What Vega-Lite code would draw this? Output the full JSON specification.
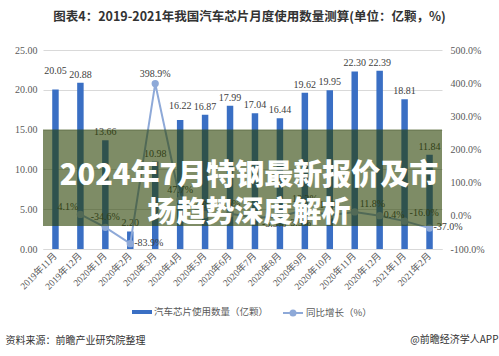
{
  "$schema": "https://vega.github.io/schema/vega-lite/v6.json",
  "width": 399,
  "height": 199,
  "autosize": "none",
  "padding": {"left": 43, "top": 50, "right": 57, "bottom": 107},
  "background": "white",
  "config": {
    "view": {"stroke": null},
    "locale": {"number": {"decimal": ".", "thousands": ",", "grouping": [3], "currency": ["", ""], "minus": "-"}},
    "axis": {"labelFont": "Liberation Serif", "labelFontSize": 10, "labelColor": "#595959", "ticks": false, "domain": false}
  },
  "title": {
    "text": "图表4：2019-2021年我国汽车芯片月度使用数量测算(单位：亿颗，%)",
    "font": "Noto Sans CJK SC",
    "fontSize": 12.5,
    "fontWeight": "bold",
    "color": "#333333",
    "anchor": "middle",
    "frame": "group",
    "dx": 7,
    "offset": 22
  },
  "data": {
    "values": [
      {"month": "2019年11月", "count": 20.05, "growth": null},
      {"month": "2019年12月", "count": 20.88, "growth": 0.041},
      {"month": "2020年1月", "count": 13.66, "growth": -0.346},
      {"month": "2020年2月", "count": 2.20, "growth": -0.839},
      {"month": "2020年3月", "count": 10.98, "growth": 3.989},
      {"month": "2020年4月", "count": 16.22, "growth": 0.477},
      {"month": "2020年5月", "count": 16.87, "growth": 0.040},
      {"month": "2020年6月", "count": 17.99, "growth": 0.066},
      {"month": "2020年7月", "count": 17.04, "growth": -0.053},
      {"month": "2020年8月", "count": 16.44, "growth": -0.035},
      {"month": "2020年9月", "count": 19.62, "growth": 0.193},
      {"month": "2020年10月", "count": 19.95, "growth": 0.017},
      {"month": "2020年11月", "count": 22.30, "growth": 0.118},
      {"month": "2020年12月", "count": 22.39, "growth": 0.004},
      {"month": "2021年1月", "count": 18.81, "growth": -0.160},
      {"month": "2021年2月", "count": 11.84, "growth": -0.370}
    ]
  },
  "layer": [
    {
      "encoding": {
        "x": {
          "field": "month", "type": "nominal", "sort": null,
          "scale": {"domain": ["2019年11月","2019年12月","2020年1月","2020年2月","2020年3月","2020年4月","2020年5月","2020年6月","2020年7月","2020年8月","2020年9月","2020年10月","2020年11月","2020年12月","2021年1月","2021年2月"], "paddingInner": 0.74, "paddingOuter": 0.37},
          "axis": {
            "labelAngle": -45, "labelAlign": "right", "labelBaseline": "middle",
            "labelFont": "Liberation Serif, Noto Sans CJK SC", "labelFontSize": 9.5, "labelPadding": 5,
            "domain": true, "domainColor": "#D9D9D9",
            "title": "资料来源：前瞻产业研究院整理", "titleX": -38, "titleY": 91, "titleAlign": "left", "titleBaseline": "middle",
            "titleFont": "Noto Sans CJK SC", "titleFontSize": 10, "titleFontWeight": "normal", "titleColor": "#333333"
          }
        },
        "y": {
          "field": "count", "type": "quantitative",
          "scale": {"domain": [0, 25]},
          "axis": {"orient": "left", "values": [0, 5, 10, 15, 20, 25], "format": ".2f", "grid": true, "gridColor": "#D9D9D9", "title": null, "labelPadding": 6}
        }
      },
      "layer": [
        {
          "mark": {"type": "bar"},
          "encoding": {
            "fill": {
              "datum": "汽车芯片使用数量（亿颗）", "type": "nominal",
              "scale": {"range": ["#3A6FC4"]},
              "legend": {"orient": "none", "legendX": 89, "legendY": 252, "title": null, "padding": 0,
                "symbolType": "M-1,-0.2H1V0.2H-1Z", "symbolSize": 400, "symbolStrokeWidth": 0,
                "labelFont": "Noto Sans CJK SC", "labelFontSize": 9.5, "labelColor": "#595959", "labelOffset": 2, "labelLimit": 300}
            }
          }
        },
        {
          "transform": [{"filter": {"not": {"field": "month", "oneOf": ["2019年11月", "2020年4月"]}}}],
          "mark": {"type": "text", "baseline": "bottom", "dy": -3, "font": "Liberation Serif", "fontSize": 10, "color": "#404040"},
          "encoding": {"text": {"field": "count", "type": "quantitative", "format": ".2f"}}
        },
        {
          "transform": [{"filter": {"field": "month", "equal": "2019年11月"}}],
          "mark": {"type": "text", "baseline": "bottom", "dy": -13, "font": "Liberation Serif", "fontSize": 10, "color": "#404040"},
          "encoding": {"text": {"field": "count", "type": "quantitative", "format": ".2f"}}
        },
        {
          "transform": [{"filter": {"field": "month", "equal": "2020年4月"}}],
          "mark": {"type": "text", "baseline": "bottom", "dy": -9, "font": "Liberation Serif", "fontSize": 10, "color": "#404040"},
          "encoding": {"text": {"field": "count", "type": "quantitative", "format": ".2f"}}
        }
      ]
    },
    {
      "encoding": {
        "x": {
          "field": "month", "type": "nominal", "sort": null,
          "scale": {"domain": ["2019年11月","2019年12月","2020年1月","2020年2月","2020年3月","2020年4月","2020年5月","2020年6月","2020年7月","2020年8月","2020年9月","2020年10月","2020年11月","2020年12月","2021年1月","2021年2月"], "paddingInner": 0.74, "paddingOuter": 0.37},
          "axis": {
            "labelAngle": -45, "labelAlign": "right", "labelBaseline": "middle",
            "labelFont": "Liberation Serif, Noto Sans CJK SC", "labelFontSize": 9.5, "labelPadding": 5,
            "domain": true, "domainColor": "#D9D9D9",
            "title": "资料来源：前瞻产业研究院整理", "titleX": -38, "titleY": 91, "titleAlign": "left", "titleBaseline": "middle",
            "titleFont": "Noto Sans CJK SC", "titleFontSize": 10, "titleFontWeight": "normal", "titleColor": "#333333"
          }
        },
        "y": {
          "field": "growth", "type": "quantitative",
          "scale": {"domain": [-1, 5]},
          "axis": {"orient": "right", "values": [-1, 0, 1, 2, 3, 4, 5], "format": ".1%", "grid": false, "labelPadding": 8,
            "title": "@前瞻经济学人APP", "titleAngle": 0, "titleX": 56, "titleY": 289, "titleAlign": "right", "titleBaseline": "middle",
            "titleFont": "Noto Sans CJK SC", "titleFontSize": 10, "titleFontWeight": "normal", "titleColor": "#333333"}
        }
      },
      "layer": [
        {
          "transform": [{"filter": "datum.growth != null"}],
          "mark": {"type": "line", "strokeWidth": 2, "point": {"filled": true, "size": 28, "fill": "#8EA9D8"}},
          "encoding": {
            "stroke": {
              "datum": "同比增长（%）", "type": "nominal",
              "scale": {"range": ["#8EA9D8"]},
              "legend": {"orient": "none", "legendX": 239, "legendY": 252, "title": null, "padding": 0,
                "symbolType": "M-1,0H1M0.25,0A0.25,0.25,0,1,1,-0.25,0A0.25,0.25,0,1,1,0.25,0Z", "symbolSize": 400,
                "symbolStrokeWidth": 2, "symbolFillColor": "#8EA9D8",
                "labelFont": "Noto Sans CJK SC", "labelFontSize": 9.5, "labelColor": "#595959", "labelOffset": 2, "labelLimit": 300}
            }
          }
        },
        {
          "transform": [{"filter": {"field": "month", "oneOf": ["2020年1月", "2020年3月", "2020年4月", "2020年5月", "2020年6月", "2020年9月", "2020年10月"]}}],
          "mark": {"type": "text", "align": "center", "baseline": "middle", "dy": -10, "font": "Liberation Serif", "fontSize": 10, "color": "#404040"},
          "encoding": {"text": {"field": "growth", "type": "quantitative", "format": ".1%"}}
        },
        {
          "transform": [{"filter": {"field": "month", "oneOf": ["2019年12月"]}}],
          "mark": {"type": "text", "align": "right", "baseline": "middle", "dx": -2, "dy": -7, "font": "Liberation Serif", "fontSize": 10, "color": "#404040"},
          "encoding": {"text": {"field": "growth", "type": "quantitative", "format": ".1%"}}
        },
        {
          "transform": [{"filter": {"field": "month", "oneOf": ["2020年11月", "2021年1月"]}}],
          "mark": {"type": "text", "align": "left", "baseline": "middle", "dx": 5, "dy": -8, "font": "Liberation Serif", "fontSize": 10, "color": "#404040"},
          "encoding": {"text": {"field": "growth", "type": "quantitative", "format": ".1%"}}
        },
        {
          "transform": [{"filter": {"field": "month", "oneOf": ["2020年2月", "2020年12月", "2021年2月"]}}],
          "mark": {"type": "text", "align": "left", "baseline": "middle", "dx": 4, "dy": -1, "font": "Liberation Serif", "fontSize": 10, "color": "#404040"},
          "encoding": {"text": {"field": "growth", "type": "quantitative", "format": ".1%"}}
        },
        {
          "transform": [{"filter": {"field": "month", "oneOf": ["2020年7月", "2020年8月"]}}],
          "mark": {"type": "text", "align": "left", "baseline": "middle", "dx": 7, "dy": 6, "font": "Liberation Serif", "fontSize": 10, "color": "#404040"},
          "encoding": {"text": {"field": "growth", "type": "quantitative", "format": ".1%"}}
        }
      ]
    },
    {
      "data": {"values": [{}]},
      "layer": [
        {
          "mark": {"type": "rect", "color": "#283F00", "opacity": 0.6},
          "encoding": {
            "y": {"datum": 15, "type": "quantitative", "scale": {"domain": [0, 25]}, "axis": null},
            "y2": {"datum": 2.875}
          }
        },
        {
          "mark": {"type": "text", "text": ["2024年7月特钢最新报价及市", "场趋势深度解析"], "lineHeight": 37, "align": "center", "baseline": "middle", "dx": 6.5,
            "font": "Noto Sans CJK SC", "fontSize": 29, "fontWeight": 900, "color": "white"},
          "encoding": {
            "y": {"datum": 9.125, "type": "quantitative", "scale": {"domain": [0, 25]}, "axis": null}
          }
        }
      ]
    }
  ],
  "resolve": {"scale": {"y": "independent"}}
}
